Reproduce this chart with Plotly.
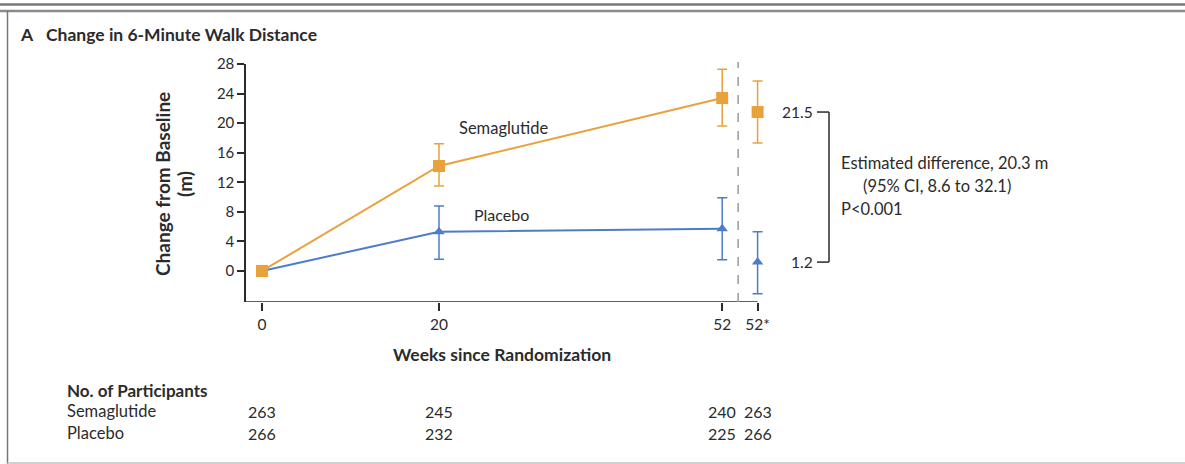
import plotly.graph_objects as go

W, H = 1185, 464

# ---- data ----
weeks = [0, 20, 52]
week_labels = ["0", "20", "52", "52*"]
tick_vals = [0, 20, 52, 56]
final_x = 56  # position of the "52*" estimate column

sema_mean = [0, 14.2, 23.4]
sema_hi = [0, 17.2, 27.3]
sema_lo = [0, 11.5, 19.6]
placebo_mean = [0, 5.3, 5.7]
placebo_hi = [0, 8.8, 9.9]
placebo_lo = [0, 1.6, 1.5]

sema_est, sema_est_hi, sema_est_lo = 21.5, 25.7, 17.3
placebo_est, placebo_est_hi, placebo_est_lo = 1.2, 5.3, -3.1

n_sema = [263, 245, 240, 263]
n_placebo = [266, 232, 225, 266]

y_ticks = [0, 4, 8, 12, 16, 20, 24, 28]

ORANGE = "#E9A23B"
BLUE = "#4D7DC6"
TXT = "#2b2b2b"
FONT = "Lato, 'Open Sans', sans-serif"

X_MIN, X_MAX = -1.8, 57.5
Y_MIN, Y_MAX = -4.2, 28


def px(x):
    return x / W


def py(y):
    return 1 - y / H


fig = go.Figure()

eb = dict(type="data", symmetric=False, thickness=1.5, width=5)

fig.add_trace(go.Scatter(
    x=weeks, y=sema_mean, mode="lines+markers",
    line=dict(color=ORANGE, width=2),
    marker=dict(symbol="square", size=12, color=ORANGE),
    error_y=dict(eb, color=ORANGE,
                 array=[h - m for h, m in zip(sema_hi, sema_mean)],
                 arrayminus=[m - l for m, l in zip(sema_mean, sema_lo)]),
    showlegend=False, cliponaxis=False))
fig.add_trace(go.Scatter(
    x=weeks, y=placebo_mean, mode="lines+markers",
    line=dict(color=BLUE, width=2),
    marker=dict(symbol="triangle-up", size=10, color=BLUE),
    error_y=dict(eb, color=BLUE,
                 array=[h - m for h, m in zip(placebo_hi, placebo_mean)],
                 arrayminus=[m - l for m, l in zip(placebo_mean, placebo_lo)]),
    showlegend=False, cliponaxis=False))
fig.add_trace(go.Scatter(
    x=[weeks[0]], y=[sema_mean[0]], mode="markers",
    marker=dict(symbol="square", size=12, color=ORANGE),
    showlegend=False, cliponaxis=False))
fig.add_trace(go.Scatter(
    x=[final_x], y=[sema_est], mode="markers",
    marker=dict(symbol="square", size=12, color=ORANGE),
    error_y=dict(eb, color=ORANGE,
                 array=[sema_est_hi - sema_est], arrayminus=[sema_est - sema_est_lo]),
    showlegend=False, cliponaxis=False))
fig.add_trace(go.Scatter(
    x=[final_x], y=[placebo_est], mode="markers",
    marker=dict(symbol="triangle-up", size=10, color=BLUE),
    error_y=dict(eb, color=BLUE,
                 array=[placebo_est_hi - placebo_est], arrayminus=[placebo_est - placebo_est_lo]),
    showlegend=False, cliponaxis=False))

shapes = []
shapes.append(dict(type="line", xref="x", yref="y", x0=X_MIN, x1=tick_vals[-1],
                   y0=Y_MIN, y1=Y_MIN, line=dict(color=TXT, width=1.5), layer="above"))
shapes.append(dict(type="line", xref="x", yref="paper", x0=53.8, x1=53.8,
                   y0=py(302), y1=py(62),
                   line=dict(color="#9a9a9a", width=1.5, dash="dash")))
for v in (sema_est, placebo_est):
    shapes.append(dict(type="line", xref="paper", yref="y", x0=px(817), x1=px(829),
                       y0=v, y1=v, line=dict(color=TXT, width=1.5)))
shapes.append(dict(type="line", xref="paper", yref="y", x0=px(829), x1=px(829),
                   y0=placebo_est, y1=sema_est, line=dict(color=TXT, width=1.5)))
shapes.append(dict(type="line", xref="paper", yref="paper", x0=0, x1=1,
                   y0=py(4.5), y1=py(4.5), line=dict(color="#777777", width=2.5)))
shapes.append(dict(type="line", xref="paper", yref="paper", x0=0, x1=1,
                   y0=py(11), y1=py(11), line=dict(color="#8a8a8a", width=2.5)))
shapes.append(dict(type="line", xref="paper", yref="paper", x0=px(7.5), x1=px(7.5),
                   y0=py(11), y1=0, line=dict(color="#777777", width=1.5)))
shapes.append(dict(type="line", xref="paper", yref="paper", x0=px(7.5), x1=1,
                   y0=py(463), y1=py(463), line=dict(color="#d0d0d0", width=2)))


def A(**kw):
    d = dict(showarrow=False, yanchor="middle")
    d.update(kw)
    return d


ann = []
ann.append(A(xref="paper", yref="paper", x=px(18), y=py(34), xanchor="left",
             text="<b>A</b>", font=dict(size=17.5, color=TXT, family=FONT)))
ann.append(A(xref="paper", yref="paper", x=px(44), y=py(34), xanchor="left",
             text="<b>Change in 6-Minute Walk Distance</b>",
             font=dict(size=17.5, color=TXT, family=FONT)))
ann.append(A(xref="paper", yref="paper", x=px(162), y=py(184), xanchor="center",
             textangle=-90, text="<b>Change from Baseline</b>",
             font=dict(size=19, color=TXT, family=FONT)))
ann.append(A(xref="paper", yref="paper", x=px(184), y=py(184), xanchor="center",
             textangle=-90, text="<b>(m)</b>",
             font=dict(size=19, color=TXT, family=FONT)))
ann.append(A(xref="paper", yref="paper", x=px(502), y=py(354), xanchor="center",
             text="<b>Weeks since Randomization</b>",
             font=dict(size=17.5, color=TXT, family=FONT)))
ann.append(A(xref="x", yref="y", x=27.3, y=19.3, xanchor="center", text="Semaglutide",
             font=dict(size=16.5, color=TXT, family=FONT)))
ann.append(A(xref="x", yref="y", x=27.1, y=7.6, xanchor="center", text="Placebo",
             font=dict(size=16, color=TXT, family=FONT)))
for v in (sema_est, placebo_est):
    ann.append(A(xref="paper", yref="y", x=px(815), y=v, xanchor="right",
                 text=f"{v}", font=dict(size=15.5, color=TXT, family=FONT)))
for txt, yy, xx in [("Estimated difference, 20.3 m", 163, 839),
                    ("(95% CI, 8.6 to 32.1)", 186, 861),
                    ("P<0.001", 209, 839)]:
    ann.append(A(xref="paper", yref="paper", x=px(xx), y=py(yy), xanchor="left",
                 text=txt, font=dict(size=16.5, color=TXT, family=FONT)))
ann.append(A(xref="paper", yref="paper", x=px(65), y=py(390), xanchor="left",
             text="<b>No. of Participants</b>", font=dict(size=17, color=TXT, family=FONT)))
for label, counts, yy in [("Semaglutide", n_sema, 411), ("Placebo", n_placebo, 433)]:
    ann.append(A(xref="paper", yref="paper", x=px(65), y=py(yy), xanchor="left",
                 text=label, font=dict(size=16.5, color=TXT, family=FONT)))
    for xv, c in zip(tick_vals, counts):
        ann.append(A(xref="x", yref="paper", x=xv, y=py(yy), xanchor="center", text=str(c),
                     font=dict(size=16, color=TXT, family=FONT)))

x0_px = 262 - 8.85 * (0 - X_MIN)
x1_px = 262 + 8.85 * X_MAX

fig.update_layout(
    template="none",
    width=W, height=H, autosize=False, margin=dict(l=0, r=0, t=0, b=0, pad=0),
    paper_bgcolor="white", plot_bgcolor="white",
    shapes=shapes, annotations=ann,
    font=dict(family=FONT, color=TXT),
    xaxis=dict(domain=[px(x0_px), px(x1_px)], range=[X_MIN, X_MAX],
               tickvals=tick_vals, ticktext=week_labels,
               showline=False, automargin=False,
               ticks="outside", ticklen=8, tickwidth=1.5, tickcolor=TXT,
               showgrid=False, zeroline=False,
               tickfont=dict(size=15.5, color=TXT, family=FONT)),
    yaxis=dict(domain=[py(302), py(64)], range=[Y_MIN, Y_MAX],
               tickvals=y_ticks, automargin=False,
               showline=True, linecolor=TXT, linewidth=1.5,
               ticks="outside", ticklen=7, tickwidth=1.5, tickcolor=TXT,
               showgrid=False, zeroline=False,
               tickfont=dict(size=15, color=TXT, family=FONT)),
)

fig.write_html("out.html", config={"displayModeBar": False},
               post_script="document.body.style.margin='0';document.body.style.padding='0';")
